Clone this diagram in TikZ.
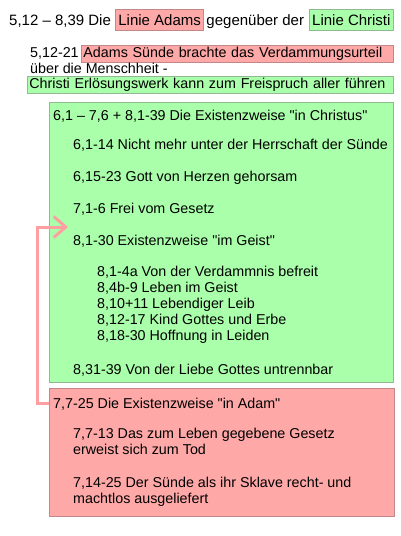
\documentclass[tikz,border=0pt]{standalone}
\usepackage{fontspec}
\setmainfont{Liberation Sans}[Ligatures=TeXOff]
\usetikzlibrary{arrows.meta}
\definecolor{hgreen}{RGB}{170,255,170}
\definecolor{hred}{RGB}{255,168,168}
\definecolor{bgreen}{RGB}{145,185,145}
\definecolor{bred}{RGB}{195,135,135}
\definecolor{cpink}{RGB}{255,160,160}

\begin{document}
\begin{tikzpicture}[x=1pt, y=-1pt,
    txt/.style={anchor=base west, inner sep=0pt, align=left,
                font=\fontsize{14.3}{16}\selectfont},
    ttl/.style={txt, font=\fontsize{15}{18}\selectfont},
    hlgreen/.style={fill=hgreen, draw=bgreen, line width=0.8pt},
    hlred/.style={fill=hred, draw=bred, line width=0.8pt},
    tbox/.style={inner xsep=2.5pt, inner ysep=2pt, text height=14pt, text depth=3pt},
    lbox/.style={inner xsep=2pt, inner ysep=1pt, text height=11pt, text depth=4pt},
    bigbox/.style={anchor=north west, inner sep=0pt},
    insarrow/.style={-{Straight Barb[length=12pt,width=21pt]}, line width=3pt, cpink}
  ]
  \useasboundingbox[fill=white] (0,0) rectangle (400,536);

  % title line
  \node[ttl] (tdie) at (9,25) {5,12 – 8,39 Die};
  \node[ttl, tbox, hlred] (ladams) at ([xshift=4.3pt]tdie.base east) {Linie Adams};
  \node[ttl] (tgeg) at ([xshift=2.5pt]ladams.base east) {gegenüber der};
  \node[ttl, tbox, hlgreen] (lchristi) at ([xshift=5pt]tgeg.base east) {Linie Christi};

  % 5,12-21
  \node[txt] (rk) at (30,57) {5,12-21};
  \node[txt, lbox, hlred, text width=308pt] (suende) at (81,57) {Adams Sünde brachte das Verdammungsurteil};
  \node[txt] (menschheit) at (30,73) {über die Menschheit -};
  \node[txt, lbox, hlgreen, text width=362pt] (erloesung) at (27,88) {Christi Erlösungswerk kann zum Freispruch aller führen};

  % Existenzweise in Christus
  \node[bigbox, hlgreen, minimum width=344pt, minimum height=280pt] (christus) at (49,102) {};
  \node[txt] (chkopf) at (53,120) {6,1 – 7,6 + 8,1-39 Die Existenzweise "in Christus"};
  \node[txt] (herrschaft) at (73,149) {6,1-14 Nicht mehr unter der Herrschaft der Sünde};
  \node[txt] (gehorsam) at (73,181) {6,15-23 Gott von Herzen gehorsam};
  \node[txt] (gesetz) at (73,213) {7,1-6 Frei vom Gesetz};
  \node[txt] (geist) at (73,245) {8,1-30 Existenzweise "im Geist"};
  \node[txt] (geistitems) at (97,340) {8,1-4a Von der Verdammnis befreit\\
    8,4b-9 Leben im Geist\\
    8,10+11 Lebendiger Leib\\
    8,12-17 Kind Gottes und Erbe\\
    8,18-30 Hoffnung in Leiden};
  \node[txt] (liebe) at (73,374) {8,31-39 Von der Liebe Gottes untrennbar};

  % Existenzweise in Adam
  \node[bigbox, hlred, minimum width=345pt, minimum height=128pt] (adam) at (49,388) {};
  \node[txt] (adkopf) at (53,408) {7,7-25 Die Existenzweise "in Adam"};
  \node[txt] (tod) at (73,454) {7,7-13 Das zum Leben gegebene Gesetz\\erweist sich zum Tod};
  \node[txt] (sklave) at (73,503) {7,14-25 Der Sünde als ihr Sklave recht- und\\machtlos ausgeliefert};

  % Einschub 7,7-25 zwischen 7,6 und 8,1
  \coordinate (insert) at (68,227);
  \draw[insarrow] (adam.west |- adkopf.west) -- ++(-12,0) |- (insert);
\end{tikzpicture}
\end{document}
